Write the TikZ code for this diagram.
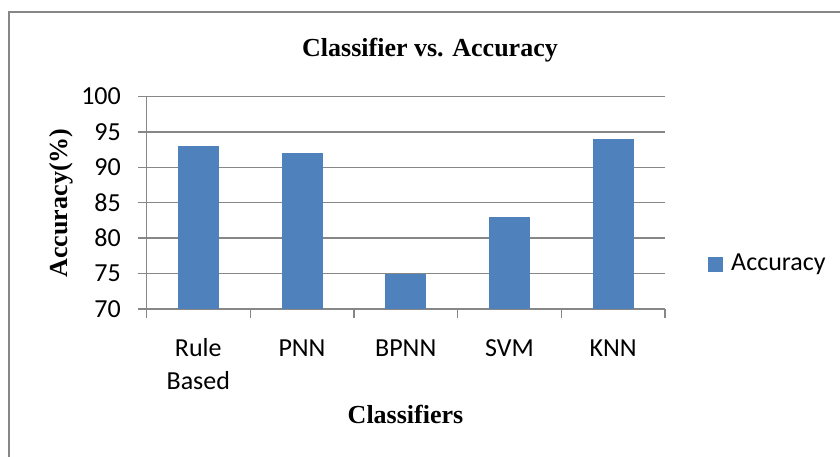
\documentclass[tikz,border=0pt]{standalone}
\usepackage{fontspec}
\setmainfont{Liberation Serif}
\newfontfamily\calibri{Carlito}
\usepackage{xcolor}
\usepackage{tikz}
\usetikzlibrary{positioning}

\definecolor{barblue}{HTML}{4F81BD}
\definecolor{gridgray}{HTML}{878787}

\begin{document}
\begin{tikzpicture}
      [ x=1pt, y=-1pt, inner sep=0pt,
        frame/.style={draw=gridgray, line width=2pt},
        grid/.style={draw=gridgray, line width=1.4pt},
        bar/.style={fill=barblue},
        ticklabel/.style={font=\calibri\fontsize{26}{33}\selectfont},
        axistitle/.style={font=\fontsize{26}{30}\selectfont\bfseries}
      ]
      \clip (0,0) rectangle (840,457);
      \draw[frame] (8.5,12) rectangle (870,480);

      % grid and axes
      \foreach \v in {75,80,...,100}
        \draw[grid] (138,{309-(\v-70)*7.083}) -- (665,{309-(\v-70)*7.083});
      \draw[grid] (138,309) -- (665,309);
      \draw[grid] (146.5,96) -- (146.5,318);
      \foreach \k in {1,...,5}
        \draw[grid] ({146.5+103.7*\k},309) -- ++(0,9);

      \foreach \v in {70,75,...,100}
        \node[ticklabel, anchor=east] (y\v) at (121,{309-(\v-70)*7.083}) {\v};

      % bars
      \foreach \v [count=\i] in {93,92,75,83,94}
        \fill[bar] ({146.5+103.7*(\i-0.5)-20.5},309) rectangle ++(41,{-(\v-70)*7.083});

      \node[ticklabel, anchor=base, align=center] (rule)  at (198.3,389) {Rule\\Based};
      \node[ticklabel, anchor=base]               (pnn)   at (302,356)   {PNN};
      \node[ticklabel, anchor=base]               (bpnn)  at (405.7,356) {BPNN};
      \node[ticklabel, anchor=base]               (svm)   at (509.4,356) {SVM};
      \node[ticklabel, anchor=base]               (knn)   at (613.1,356) {KNN};

      \node[axistitle] (title)  at (430,50)  {Classifier vs. Accuracy};
      \node[axistitle] (xtitle) at (405.5,414) {Classifiers};
      \node[axistitle, rotate=90] (ytitle) at (61,203) {Accuracy(\%)};

      % legend
      \fill[bar] (708,257) rectangle (723,272);
      \node[ticklabel, anchor=west] (legend) at (731,264.5) {Accuracy};
\end{tikzpicture}
\end{document}
